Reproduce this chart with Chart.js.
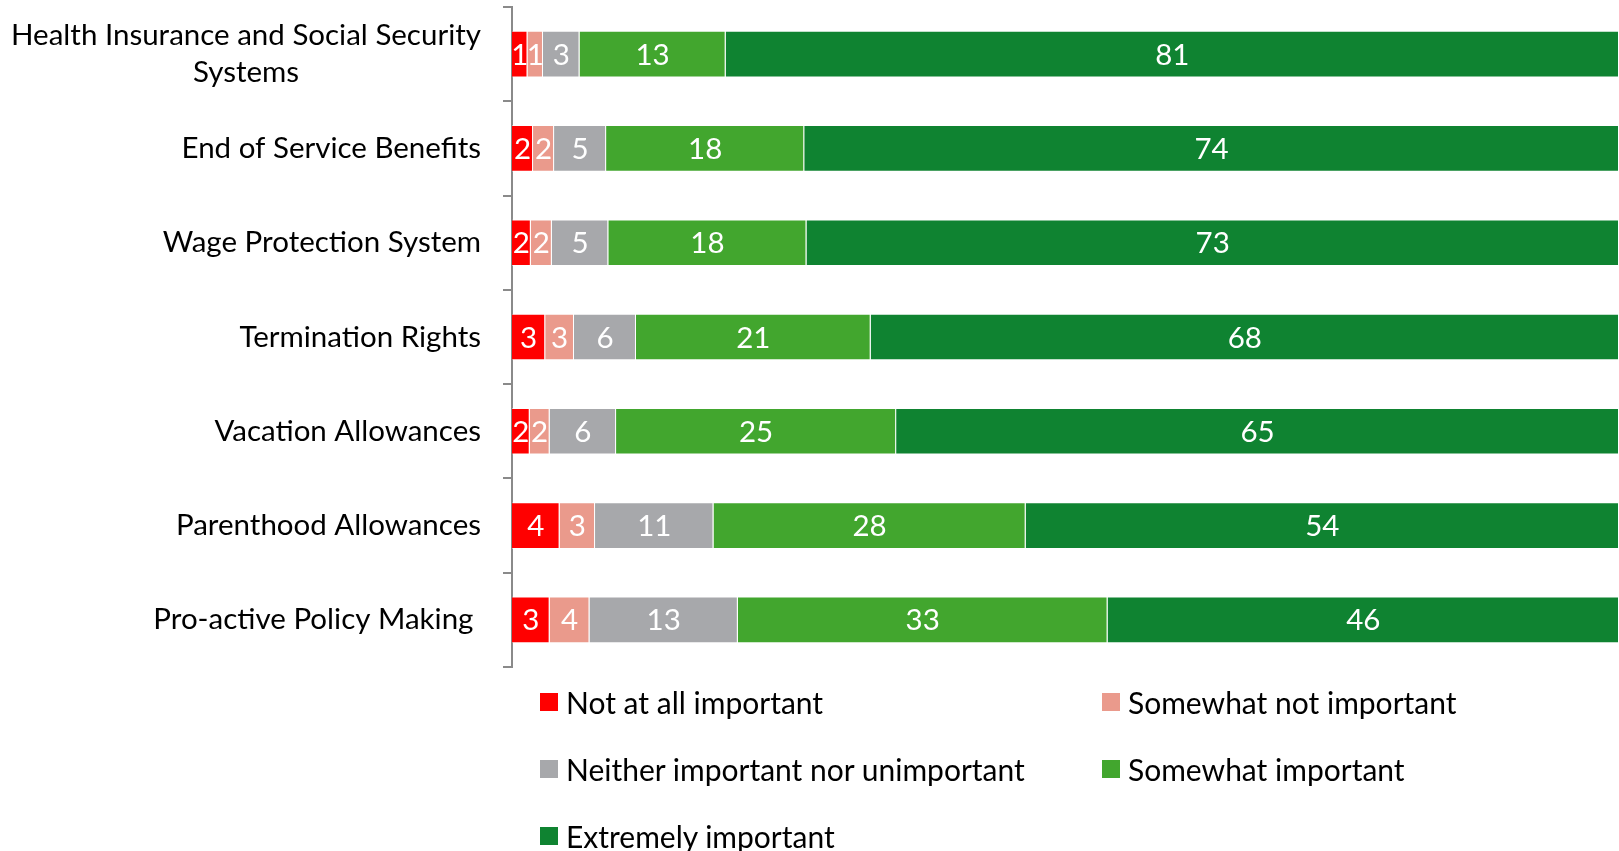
<!DOCTYPE html>
<html>
<head>
<meta charset="utf-8">
<script src="https://cdn.jsdelivr.net/npm/chart.js@4.4.0/dist/chart.umd.min.js"></script>
<style>
  body { margin: 0; background: #fff; font-family: Lato, sans-serif; }
  #wrap { position: relative; width: 1619px; height: 851px; }
  #chartBox { position: absolute; left: 0; top: 0; width: 1619px; height: 680px; }
  #legend-container { position: absolute; left: 540px; top: 668px; }
</style>
</head>
<body>
<div id="wrap">
  <div id="chartBox"><canvas id="myChart"></canvas></div>
  <div id="legend-container"></div>
</div>
<script>
// Categorias (el primer rotulo va en dos lineas)
const categories = [
  ['Health Insurance and Social Security', 'Systems'],
  'End of Service Benefits',
  'Wage Protection System',
  'Termination Rights',
  'Vacation Allowances',
  'Parenthood Allowances',
  'Pro-active Policy Making '
]

const seriesNames = ['Not at all important', 'Somewhat not important', 'Neither important nor unimportant', 'Somewhat important', 'Extremely important']
const seriesColors = ['#FF0000', '#EA9A8C', '#A7A8AB', '#42A62E', '#0F8331']

// Porcentajes
const notAtAll    = [1.4, 1.9, 1.7, 3.0, 1.6, 4.3, 3.4]
const somewhatNot = [1.4, 1.9, 1.9, 2.6, 1.8, 3.2, 3.6]
const neither     = [3.3, 4.7, 5.1, 5.6, 6.0, 10.7, 13.4]
const somewhat    = [13.2, 17.9, 17.9, 21.2, 25.3, 28.2, 33.4]
const extremely   = [80.7, 73.6, 73.4, 67.6, 65.3, 53.6, 46.2]

const seriesValues = [notAtAll, somewhatNot, neither, somewhat, extremely]

const FONT = '29.5px Lato'
const LEGEND_FONT = '30px Lato'

// Rotulos del eje Y: bloque alineado a la derecha, lineas centradas entre si
const yLabelsPlugin = {
  id: 'yLabels',
  afterDraw(chart) {
    const { ctx } = chart
    const yScale = chart.scales.y
    const right = 481
    const lineHeight = 37
    ctx.save()
    ctx.font = FONT
    ctx.fillStyle = '#000'
    ctx.textAlign = 'center'
    ctx.textBaseline = 'middle'
    categories.forEach((label, i) => {
      const lines = Array.isArray(label) ? label : [label]
      const widest = Math.max(...lines.map(l => ctx.measureText(l).width))
      const cx = right - widest / 2
      const yc = yScale.getPixelForValue(i)
      lines.forEach((line, j) => {
        const y = yc + (j - (lines.length - 1) / 2) * lineHeight
        ctx.fillText(line, cx, y)
      })
    })
    ctx.restore()
  }
}

// Valores redondeados dentro de cada segmento
const valueLabelsPlugin = {
  id: 'valueLabels',
  afterDatasetsDraw(chart) {
    const { ctx } = chart
    ctx.save()
    ctx.font = FONT
    ctx.fillStyle = '#fff'
    ctx.textAlign = 'center'
    ctx.textBaseline = 'middle'
    chart.data.datasets.forEach((ds, di) => {
      const meta = chart.getDatasetMeta(di)
      meta.data.forEach((bar, i) => {
        const x = (bar.x + bar.base) / 2
        ctx.fillText(Math.round(ds.data[i]), x, bar.y + 1)
      })
    })
    ctx.restore()
  }
}

// Leyenda en HTML, dos columnas
const htmlLegendPlugin = {
  id: 'htmlLegend',
  afterUpdate(chart, args, options) {
    const container = document.getElementById(options.containerID)
    let ul = container.querySelector('ul')
    if (!ul) {
      ul = document.createElement('ul')
      ul.style.display = 'grid'
      ul.style.gridTemplateColumns = '562px auto'
      ul.style.gridAutoRows = '67px'
      ul.style.margin = 0
      ul.style.padding = 0
      container.appendChild(ul)
    }
    while (ul.firstChild) {
      ul.firstChild.remove()
    }
    chart.data.datasets.forEach(ds => {
      const li = document.createElement('li')
      li.style.display = 'flex'
      li.style.alignItems = 'center'
      li.style.listStyle = 'none'

      const box = document.createElement('span')
      box.style.display = 'inline-block'
      box.style.width = '18px'
      box.style.height = '18px'
      box.style.marginRight = '8px'
      box.style.background = ds.backgroundColor

      const text = document.createElement('span')
      text.style.font = LEGEND_FONT
      text.style.color = '#000'
      text.textContent = ds.label

      li.appendChild(box)
      li.appendChild(text)
      ul.appendChild(li)
    })
  }
}

const ctx = document.getElementById('myChart').getContext('2d')
const myChart = new Chart(ctx, {
  type: 'bar',
  data: {
    labels: categories,
    datasets: seriesNames.map((name, i) => ({
      label: name,
      data: seriesValues[i],
      backgroundColor: seriesColors[i],
      borderColor: 'rgba(255,255,255,0.45)',
      borderWidth: 1,
      categoryPercentage: 1,
      barPercentage: 0.495
    }))
  },
  options: {
    indexAxis: 'y',
    responsive: true,
    maintainAspectRatio: false,
    animation: false,
    layout: { padding: { top: 7, bottom: 13, left: 0, right: 0 } },
    scales: {
      x: {
        stacked: true,
        display: false,
        min: 0,
        max: 100
      },
      y: {
        stacked: true,
        afterFit(scale) { scale.width = 512 },
        ticks: { display: false },
        grid: {
          offset: true,
          drawOnChartArea: false,
          drawTicks: true,
          tickLength: 9,
          color: '#8A8A8A',
          lineWidth: 2
        },
        border: { display: true, color: '#8A8A8A', width: 2 }
      }
    },
    plugins: {
      legend: { display: false },
      tooltip: { enabled: false },
      htmlLegend: { containerID: 'legend-container' }
    }
  },
  plugins: [yLabelsPlugin, valueLabelsPlugin, htmlLegendPlugin]
})
</script>
</body>
</html>
